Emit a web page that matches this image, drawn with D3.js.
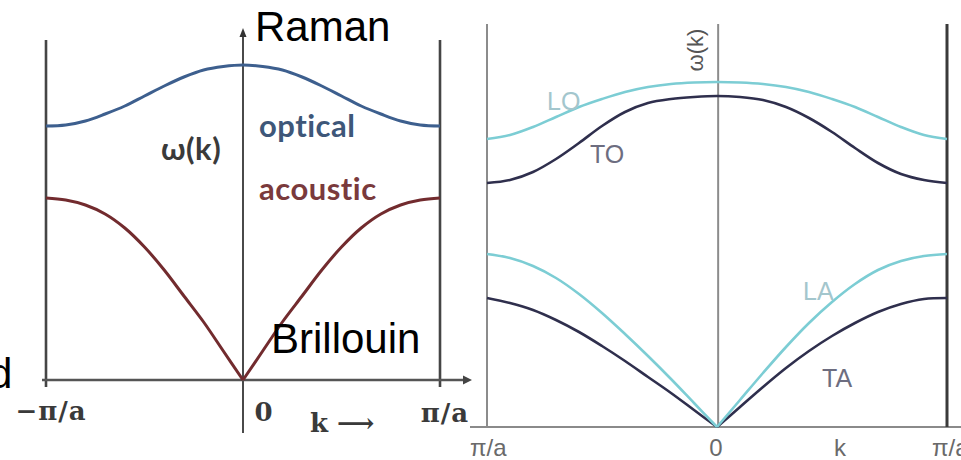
<!DOCTYPE html>
<html>
<head>
<meta charset="utf-8">
<script src="https://cdn.jsdelivr.net/npm/d3@7"></script>
<style>
  html, body { margin: 0; padding: 0; background: #fff; }
  svg { display: block; }
</style>
</head>
<body>
<svg id="chart" width="961" height="460"></svg>
<script>
// Wave vector k, in units of π/a, across the first Brillouin zone
const kPoints = [-1, -0.9, -0.8, -0.7, -0.6, -0.5, -0.4, -0.3, -0.2, -0.1, 0,
                  0.1, 0.2, 0.3, 0.4, 0.5, 0.6, 0.7, 0.8, 0.9, 1];

// Diatomic chain: ω(k) in arbitrary units
const opticalBranch  = [2.54, 2.55, 2.59, 2.66, 2.74, 2.84, 2.94, 3.03, 3.10, 3.135, 3.15,
                        3.135, 3.10, 3.03, 2.94, 2.84, 2.74, 2.66, 2.59, 2.55, 2.54];
const acousticBranch = [1.82, 1.80, 1.75, 1.66, 1.52, 1.33, 1.10, 0.84, 0.58, 0.29, 0,
                        0.29, 0.58, 0.84, 1.10, 1.33, 1.52, 1.66, 1.75, 1.80, 1.82];

// Three-dimensional crystal: longitudinal / transverse branches
const loBranch = [2.88, 2.92, 3.00, 3.10, 3.20, 3.28, 3.35, 3.40, 3.43, 3.445, 3.45,
                  3.445, 3.43, 3.40, 3.35, 3.28, 3.20, 3.10, 3.00, 2.92, 2.88];
const toBranch = [2.44, 2.47, 2.55, 2.68, 2.84, 3.01, 3.15, 3.24, 3.28, 3.30, 3.31,
                  3.30, 3.27, 3.20, 3.09, 2.95, 2.79, 2.64, 2.53, 2.47, 2.44];
const laBranch = [1.73, 1.69, 1.61, 1.49, 1.33, 1.14, 0.93, 0.71, 0.48, 0.24, 0,
                  0.27, 0.54, 0.80, 1.04, 1.25, 1.43, 1.57, 1.66, 1.71, 1.73];
const taBranch = [1.29, 1.24, 1.17, 1.07, 0.95, 0.81, 0.66, 0.50, 0.34, 0.17, 0,
                  0.20, 0.40, 0.59, 0.76, 0.91, 1.04, 1.15, 1.23, 1.28, 1.29];

// Axis tick labels
const leftTickValues  = [-1, 0, 1];
const leftTickLabels  = ["\u2212\u03c0/a", "0", "\u03c0/a"];
const rightTickValues = [-1, 0, 0.535, 1];
const rightTickLabels = ["\u03c0/a", "0", "k", "\u03c0/a"];

const svg = d3.select("#chart");
const mid = kPoints.indexOf(0);
const halves = [[0, mid + 1], [mid, kPoints.length]];

// ---------- Left panel: linear diatomic chain ----------
const xL = d3.scaleLinear().domain([-1, 1]).range([46, 440]);
const yL = d3.scaleLinear().domain([0, 3.5]).range([380, 30]);
const left = svg.append("g");

// zone boundaries
left.selectAll("line.zone")
  .data(leftTickValues.filter(v => v !== 0))
  .join("line")
  .attr("x1", d => xL(d)).attr("x2", d => xL(d))
  .attr("y1", yL(3.4)).attr("y2", yL(0) + 7)
  .attr("stroke", "#454545").attr("stroke-width", 2.6);

// ω axis with arrowhead
left.append("line")
  .attr("x1", xL(0)).attr("x2", xL(0))
  .attr("y1", yL(0) + 53).attr("y2", 34)
  .attr("stroke", "#4a4a4a").attr("stroke-width", 2);
left.append("path")
  .attr("d", `M${xL(0)},28 L${xL(0) - 3.5},37 L${xL(0) + 3.5},37 Z`)
  .attr("fill", "#333");

// k axis with arrowhead
left.append("line")
  .attr("x1", xL(-1) - 4).attr("x2", 464)
  .attr("y1", yL(0)).attr("y2", yL(0))
  .attr("stroke", "#555").attr("stroke-width", 2.6);
left.append("path")
  .attr("d", `M472,${yL(0)} L463,${yL(0) - 4.5} L463,${yL(0) + 4.5} Z`)
  .attr("fill", "#444");

const lineL = d3.line()
  .x(d => xL(d[0])).y(d => yL(d[1]))
  .curve(d3.curveCatmullRom.alpha(0.5));

// optical: one smooth branch
left.append("path")
  .attr("d", lineL(kPoints.map((k, i) => [k, opticalBranch[i]])))
  .attr("fill", "none").attr("stroke", "#3d5f8e").attr("stroke-width", 3);

// acoustic: two halves meeting at the cusp k = 0
halves.forEach(([a, b]) => {
  left.append("path")
    .attr("d", lineL(kPoints.slice(a, b).map((k, i) => [k, acousticBranch[a + i]])))
    .attr("fill", "none").attr("stroke", "#722b2e").attr("stroke-width", 3);
});

// branch labels
const labelFont = { family: "Lato", size: 31 };
[["\u03c9(k)", 161, 160, "#3a3a3a"],
 ["optical", 259, 137, "#3e5779"],
 ["acoustic", 259, 200, "#7a3a3c"]].forEach(([t, x, y, c]) => {
  left.append("text").text(t)
    .attr("x", x).attr("y", y)
    .attr("font-family", labelFont.family).attr("font-weight", "bold")
    .attr("font-size", labelFont.size).attr("letter-spacing", 0.5)
    .attr("fill", c);
});

// tick labels
const leftTickDx = [5, 21, 5];
const leftTickDy = [40, 41, 42];
left.selectAll("text.tick")
  .data(leftTickValues)
  .join("text")
  .attr("class", "tick")
  .attr("x", (d, i) => xL(d) + leftTickDx[i])
  .attr("y", (d, i) => yL(0) + leftTickDy[i])
  .attr("text-anchor", "middle")
  .attr("font-family", "DejaVu Serif").attr("font-weight", "bold").attr("font-size", 26)
  .attr("letter-spacing", 1)
  .attr("fill", "#3a3a3a")
  .text((d, i) => leftTickLabels[i]);
left.append("text").text("k \u27f6")
  .attr("x", 310).attr("y", yL(0) + 52)
  .attr("font-family", "DejaVu Serif").attr("font-weight", "bold").attr("font-size", 26)
  .attr("fill", "#3a3a3a");

// ---------- Right panel: three-dimensional crystal ----------
const xR = d3.scaleLinear().domain([-1, 1]).range([487, 947]);
const yR = d3.scaleLinear().domain([0, 4]).range([427, 27]);
svg.append("clipPath").attr("id", "rightClip")
  .append("rect").attr("x", 470).attr("y", 0).attr("width", 491).attr("height", 460);
const right = svg.append("g").attr("clip-path", "url(#rightClip)");

right.append("line")
  .attr("x1", 470).attr("x2", 961).attr("y1", yR(0)).attr("y2", yR(0))
  .attr("stroke", "#8a8a8a").attr("stroke-width", 2.2);
right.append("line")
  .attr("x1", xR(-1)).attr("x2", xR(-1)).attr("y1", 24).attr("y2", yR(0))
  .attr("stroke", "#8c8c8c").attr("stroke-width", 2);
right.append("line")
  .attr("x1", xR(0.005)).attr("x2", xR(0.005)).attr("y1", 24).attr("y2", yR(0))
  .attr("stroke", "#8c8c8c").attr("stroke-width", 2);
right.append("line")
  .attr("x1", xR(1)).attr("x2", xR(1)).attr("y1", 24).attr("y2", yR(0))
  .attr("stroke", "#3a3a3a").attr("stroke-width", 3);

const lineR = d3.line()
  .x(d => xR(d[0])).y(d => yR(d[1]))
  .curve(d3.curveCatmullRom.alpha(0.5));

const lightBranch = "#7ccdd4";
const darkBranch = "#2f2f4d";
right.append("path")
  .attr("d", lineR(kPoints.map((k, i) => [k, loBranch[i]])))
  .attr("fill", "none").attr("stroke", lightBranch).attr("stroke-width", 2.6);
right.append("path")
  .attr("d", lineR(kPoints.map((k, i) => [k, toBranch[i]])))
  .attr("fill", "none").attr("stroke", darkBranch).attr("stroke-width", 2.6);
[[taBranch, darkBranch], [laBranch, lightBranch]].forEach(([series, colour]) => {
  halves.forEach(([a, b]) => {
    right.append("path")
      .attr("d", lineR(kPoints.slice(a, b).map((k, i) => [k, series[a + i]])))
      .attr("fill", "none").attr("stroke", colour).attr("stroke-width", 2.6);
  });
});

// branch labels
const rightLabelFont = "Liberation Sans";
[["LO", 547, 110, "#a3c6cd"], ["TO", 590, 163, "#6d6d80"],
 ["LA", 803, 300, "#a3c6cd"], ["TA", 822, 387, "#6d6d80"]].forEach(([t, x, y, c]) => {
  right.append("text").text(t)
    .attr("x", x).attr("y", y)
    .attr("font-family", rightLabelFont).attr("font-size", 25)
    .attr("fill", c);
});

// rotated ω(k) beside the vertical axis
right.append("text").text("\u03c9(k)")
  .attr("transform", `translate(${xR(0) - 14},50) rotate(-90)`)
  .attr("text-anchor", "middle")
  .attr("font-family", rightLabelFont).attr("font-size", 22)
  .attr("fill", "#555");

// tick labels along the k axis
const rightTickAnchor = ["start", "middle", "middle", "start"];
const rightTickDx = [-17, -1, 0, -15];
right.selectAll("text.tick")
  .data(rightTickValues)
  .join("text")
  .attr("class", "tick")
  .attr("x", (d, i) => xR(d) + rightTickDx[i])
  .attr("y", yR(0) + 29)
  .attr("text-anchor", (d, i) => rightTickAnchor[i])
  .attr("font-family", rightLabelFont).attr("font-size", 24)
  .attr("fill", "#6a6a6a")
  .text((d, i) => rightTickLabels[i]);

// ---------- Annotations ----------
const note = svg.append("g")
  .attr("font-family", "Liberation Sans").attr("font-size", 42).attr("fill", "#000");
note.append("text").text("Raman").attr("x", 255).attr("y", 41);
note.append("text").text("Brillouin").attr("x", 271).attr("y", 353);
note.append("text").text("d").attr("x", -11).attr("y", 388);
</script>
</body>
</html>
